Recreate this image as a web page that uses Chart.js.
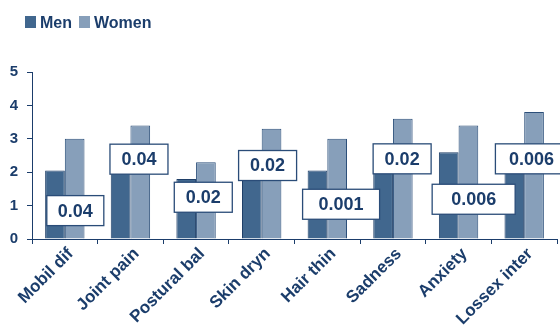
<!DOCTYPE html>
<html>
<head>
<meta charset="utf-8">
<script src="https://cdn.jsdelivr.net/npm/chart.js@4/dist/chart.umd.min.js"></script>
<style>
  html, body { margin: 0; padding: 0; background: #fff; }
  #wrap { width: 560px; height: 334px; position: relative; }
</style>
</head>
<body>
<div id="wrap"><canvas id="chart"></canvas></div>
<script>
// ----- Data -----
const categories = ['Mobil dif', 'Joint pain', 'Postural bal', 'Skin dryn', 'Hair thin', 'Sadness', 'Anxiety', 'Lossex inter'];
const menValues = [2.05, 2.3, 1.8, 2.2, 2.05, 2.4, 2.6, 2.3];
const womenValues = [3.0, 3.4, 2.3, 3.3, 3.0, 3.6, 3.4, 3.8];
const pValues = ['0.04', '0.04', '0.02', '0.02', '0.001', '0.02', '0.006', '0.006'];
const yTicks = [0, 1, 2, 3, 4, 5];

// where each p-value box sits (x in category units, y in axis units) and its width
const pBoxX = [0.16, 1.13, 2.11, 3.09, 4.21, 5.14, 6.23, 7.11];
const pBoxY = [0.85, 2.39, 1.25, 2.2, 1.04, 2.4, 1.19, 2.4];
const pBoxW = [57, 58, 58, 58, 77, 58, 83, 72];

const NAVY = '#1b3d6b';
const MEN_COLOR = '#41678e';
const WOMEN_COLOR = '#879fba';
const FONT = 'Liberation Sans, Arial, sans-serif';

// ----- Legend drawn in the top-left corner -----
const legendPlugin = {
    id: 'cornerLegend',
    afterDraw(chart) {
        const ctx = chart.ctx;
        ctx.save();
        ctx.font = 'bold 16px ' + FONT;
        ctx.textBaseline = 'alphabetic';
        let x = 25;
        chart.data.datasets.forEach(function (ds) {
            ctx.fillStyle = ds.backgroundColor;
            ctx.fillRect(x, 16, 11, 12);
            ctx.fillStyle = NAVY;
            ctx.fillText(ds.label, x + 15, 28);
            x += 15 + ctx.measureText(ds.label).width + 7;
        });
        ctx.restore();
    }
};

// ----- p-value boxes over the bars -----
const pBoxPlugin = {
    id: 'pBoxes',
    afterDatasetsDraw(chart) {
        const ctx = chart.ctx;
        const xs = chart.scales.x, ys = chart.scales.y;
        ctx.save();
        ctx.font = 'bold 18px ' + FONT;
        ctx.textAlign = 'center';
        ctx.textBaseline = 'middle';
        pValues.forEach(function (txt, i) {
            const cx = xs.getPixelForValue(pBoxX[i]);
            const cy = ys.getPixelForValue(pBoxY[i]);
            const w = pBoxW[i], h = 30;
            ctx.fillStyle = '#fff';
            ctx.fillRect(cx - w / 2, cy - h / 2, w, h);
            ctx.strokeStyle = '#2a4c78';
            ctx.lineWidth = 1.3;
            ctx.strokeRect(cx - w / 2, cy - h / 2, w, h);
            ctx.fillStyle = NAVY;
            ctx.fillText(txt, cx, cy + 1);
        });
        ctx.restore();
    }
};

new Chart(document.getElementById('chart'), {
    type: 'bar',
    data: {
        labels: categories,
        datasets: [
            {
                label: 'Men',
                data: menValues,
                backgroundColor: MEN_COLOR,
                borderColor: '#1f3f68',
                borderWidth: 1
            },
            {
                label: 'Women',
                data: womenValues,
                backgroundColor: WOMEN_COLOR,
                borderColor: '#2c4f7a',
                borderWidth: 1
            }
        ]
    },
    options: {
        responsive: true,
        maintainAspectRatio: false,
        animation: false,
        categoryPercentage: 0.6,
        barPercentage: 1.0,
        layout: { padding: { top: 72, right: 3, bottom: 0, left: 0 } },
        plugins: {
            legend: { display: false },
            tooltip: { enabled: false }
        },
        scales: {
            x: {
                grid: { offset: true, drawOnChartArea: false, tickLength: 5, color: NAVY },
                border: { color: NAVY, width: 1 },
                ticks: {
                    color: NAVY,
                    font: { family: FONT, size: 17, weight: 'bold' },
                    maxRotation: 45,
                    minRotation: 45,
                    padding: 0,
                    labelOffset: 6,
                    autoSkip: false
                },
                afterFit(scale) { scale.height = 95; }
            },
            y: {
                min: 0,
                max: 5,
                afterBuildTicks(scale) { scale.ticks = yTicks.map(v => ({ value: v })); },
                grid: { drawOnChartArea: false, tickLength: 5, color: NAVY },
                border: { color: NAVY, width: 1 },
                ticks: {
                    color: NAVY,
                    font: { family: FONT, size: 15, weight: 'bold' },
                    padding: 9
                },
                afterFit(scale) { scale.width = 32; }
            }
        }
    },
    plugins: [legendPlugin, pBoxPlugin]
});
</script>
</body>
</html>
